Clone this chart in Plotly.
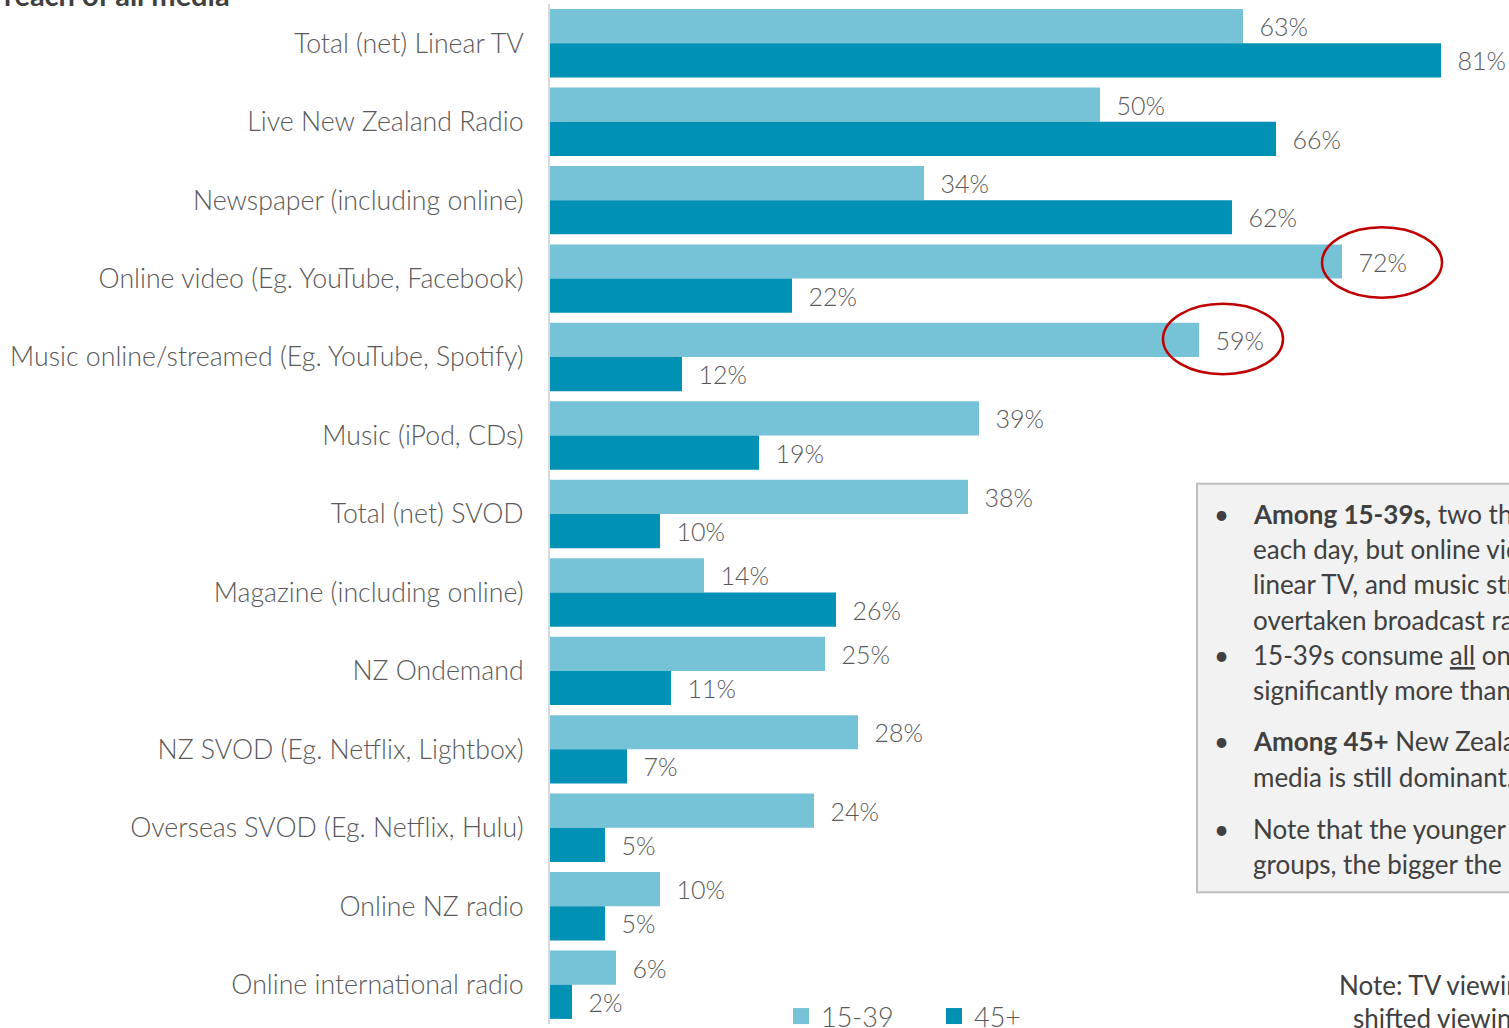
import plotly.graph_objects as go

categories = [
    "Total (net) Linear TV",
    "Live New Zealand Radio",
    "Newspaper (including online)",
    "Online video (Eg. YouTube, Facebook)",
    "Music online/streamed (Eg. YouTube, Spotify)",
    "Music (iPod, CDs)",
    "Total (net) SVOD",
    "Magazine (including online)",
    "NZ Ondemand",
    "NZ SVOD (Eg. Netflix, Lightbox)",
    "Overseas SVOD (Eg. Netflix, Hulu)",
    "Online NZ radio",
    "Online international radio",
]
age_15_39 = [63, 50, 34, 72, 59, 39, 38, 14, 25, 28, 24, 10, 6]
age_45_plus = [81, 66, 62, 22, 12, 19, 10, 26, 11, 7, 5, 5, 2]
series_names = ["15-39", "45+"]

TW, TH = 1509, 1028      # target picture size
W, H = 1509, 1041        # figure size (captured area is slightly taller than the picture)
FONT = "Lato"
GREY = "#595959"
DARKTXT = "#404040"
LIGHT = "#76C2D7"
DARK = "#0091B5"
COLORS = [LIGHT, DARK]

def px(x):  # target pixel -> paper x
    return x / TW

def py(y):  # target pixel -> paper y
    return 1 - y / TH

AXIS_X = 550          # target x of the value axis zero
PX_PER_PCT = 11
ROW0, PITCH = 43, 78  # target y of first category centre, row pitch
AX_TOP, AX_BOT = 4, 1018

fig = go.Figure()
for name, vals, col in zip(series_names, [age_15_39, age_45_plus], COLORS):
    fig.add_trace(go.Bar(
        y=categories, x=vals, orientation="h", name=name, showlegend=False,
        marker=dict(color=col, line=dict(width=0)),
        text=[f"\u00a0\u00a0{v}%" for v in vals],
        textposition="outside", constraintext="none", cliponaxis=False,
        textfont=dict(family=FONT, size=25, color=GREY, weight=300),
        hoverinfo="skip",
    ))
# legend entries with larger square swatches
for name, col in zip(series_names, COLORS):
    fig.add_trace(go.Scatter(
        x=[None], y=[None], mode="markers", name=name, showlegend=True,
        marker=dict(symbol="square", size=18, color=col, line=dict(width=0)),
        hoverinfo="skip",
    ))

shapes = [
    dict(type="rect", xref="paper", yref="paper", x0=px(1197), x1=px(1560), y0=py(481), y1=py(887),
         fillcolor="#F2F2F2", line=dict(color="#BFBFBF", width=2), layer="below"),
    dict(type="circle", xref="paper", yref="paper", x0=px(1322), x1=px(1442), y0=py(226), y1=py(296),
         line=dict(color="#C00000", width=2.5)),
    dict(type="circle", xref="paper", yref="paper", x0=px(1163), x1=px(1283), y0=py(302), y1=py(372),
         line=dict(color="#C00000", width=2.5)),
]

box_lines = [
    (511, "<b>Among 15-39s,</b> two thirds watch linear TV", True),
    (546, "each day, but online video is close behind", False),
    (581, "linear TV, and music streaming has", False),
    (616, "overtaken broadcast radio.", False),
    (651, "15-39s consume <u>all</u> online media", True),
    (686, "significantly more than 45+", False),
    (737, "<b>Among 45+</b> New Zealanders traditional", True),
    (772, "media is still dominant.", False),
    (824, "Note that the younger the age", True),
    (859, "groups, the bigger the differences", False),
]
annotations = []
for y, txt, bullet in box_lines:
    annotations.append(dict(xref="paper", yref="paper", x=px(1251), y=py(y), xanchor="left", yanchor="middle",
                            text=txt, showarrow=False, font=dict(family=FONT, size=26, color=DARKTXT)))
    if bullet:
        annotations.append(dict(xref="paper", yref="paper", x=px(1221), y=py(y), xanchor="center", yanchor="middle",
                                text="•", showarrow=False, font=dict(family=FONT, size=26, color=DARKTXT)))

annotations.append(dict(xref="paper", yref="paper", x=px(2), y=py(-5), xanchor="left", yanchor="middle",
                        text="<b>reach of all media</b>", showarrow=False,
                        font=dict(family=FONT, size=29, color=DARKTXT)))
annotations.append(dict(xref="paper", yref="paper", x=px(1337), y=py(979), xanchor="left", yanchor="middle",
                        text="Note: TV viewing includes time", showarrow=False,
                        font=dict(family=FONT, size=26, color=DARKTXT)))
annotations.append(dict(xref="paper", yref="paper", x=px(1351), y=py(1012), xanchor="left", yanchor="middle",
                        text="shifted viewing", showarrow=False,
                        font=dict(family=FONT, size=26, color=DARKTXT)))

fig.update_layout(
    width=W, height=H, margin=dict(l=0, r=0, t=0, b=0), autosize=False,
    paper_bgcolor="white", plot_bgcolor="white",
    barmode="group", bargap=10 / PITCH, bargroupgap=0,
    font=dict(family=FONT, color=GREY),
    xaxis=dict(domain=[px(AXIS_X), 1], range=[0, (TW - AXIS_X) / PX_PER_PCT], showgrid=False,
               zeroline=False, showticklabels=False, showline=False, fixedrange=True),
    yaxis=dict(domain=[py(AX_BOT), py(AX_TOP)], range=[(AX_BOT - ROW0) / PITCH, (AX_TOP - ROW0) / PITCH],
               showgrid=False, zeroline=False, showline=True, linecolor="#D9D9D9", linewidth=2, ticks="",
               ticklabelstandoff=19, tickfont=dict(family=FONT, size=26.7, color=GREY, weight=300),
               fixedrange=True),
    legend=dict(orientation="h", x=px(781), y=py(1011), xanchor="left", yanchor="middle",
                font=dict(family=FONT, size=27, color=GREY, weight=300), bgcolor="rgba(0,0,0,0)",
                itemwidth=30, entrywidth=108, traceorder="normal"),
    shapes=shapes, annotations=annotations,
)

fig.write_html("out.html", config={"displayModeBar": False},
               post_script="document.body.style.margin='0';document.body.style.overflow='hidden';")
